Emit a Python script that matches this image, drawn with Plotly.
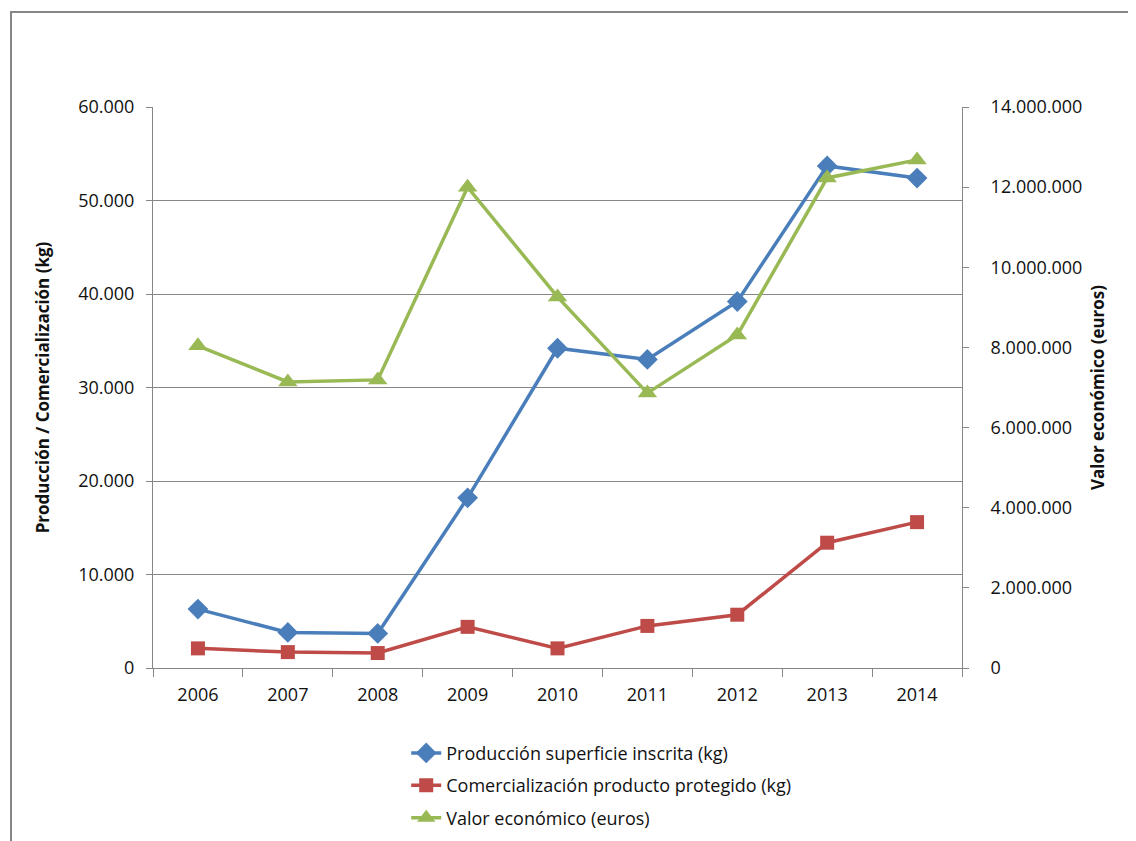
import plotly.graph_objects as go

# ── data ──────────────────────────────────────────────────────────────────────
years = ["2006", "2007", "2008", "2009", "2010", "2011", "2012", "2013", "2014"]
produccion = [6300, 3800, 3700, 18200, 34200, 33000, 39200, 53700, 52400]
comercializacion = [2100, 1700, 1600, 4400, 2100, 4500, 5700, 13400, 15600]
valor = [8040000, 7140000, 7190000, 12000000, 9260000, 6860000, 8310000,
         12230000, 12680000]

# ── palette ───────────────────────────────────────────────────────────────────
BLUE = "#4A7EBB"
RED = "#BE4B48"
GREEN = "#98B954"
GRID = "#868686"
FONT = "Open Sans, sans-serif"

fig = go.Figure()

fig.add_trace(go.Scatter(
    x=years, y=produccion, name="Producción superficie inscrita (kg)",
    legendgroup="a", mode="lines+markers", line=dict(color=BLUE, width=3.5),
    marker=dict(symbol="diamond", size=16, color=BLUE),
))
fig.add_trace(go.Scatter(
    x=years, y=comercializacion, name="Comercialización producto protegido (kg)",
    legendgroup="b", mode="lines+markers", line=dict(color=RED, width=3.5),
    marker=dict(symbol="square", size=14, color=RED),
))
fig.add_trace(go.Scatter(
    x=years, y=valor, name="Valor económico (euros)", yaxis="y2",
    legendgroup="c", mode="lines+markers", line=dict(color=GREEN, width=3.5),
    marker=dict(symbol="triangle-up", size=17, color=GREEN),
))

# outer chart border (like the Excel chart area)
fig.add_shape(type="rect", xref="paper", yref="paper",
              x0=-0.1755, x1=1.25, y0=-0.35, y1=1.1693,
              line=dict(color=GRID, width=2), fillcolor="rgba(0,0,0,0)")

fig.update_layout(
    width=1136, height=841,
    margin=dict(l=145, r=182, t=99, b=181),
    paper_bgcolor="white", plot_bgcolor="white",
    separators=",.",
    font=dict(family=FONT, size=18, color="#111111"),
    showlegend=True,
    legend=dict(x=0.313, y=-0.119, xanchor="left", yanchor="top",
                font=dict(size=18), bgcolor="rgba(0,0,0,0)",
                tracegroupgap=6),
    xaxis=dict(type="category", range=[-0.5, 8.5],
               showline=True, linecolor=GRID, linewidth=1,
               ticks="outside", tickson="boundaries", ticklen=8,
               tickcolor=GRID, showgrid=False, tickfont=dict(size=18),
               ticklabelstandoff=10),
    yaxis=dict(range=[0, 60000], dtick=10000, tickformat=",d",
               showline=True, linecolor=GRID, linewidth=1,
               ticks="outside", ticklen=6, tickcolor=GRID,
               gridcolor=GRID, gridwidth=1, zeroline=False,
               tickfont=dict(size=18), ticklabelstandoff=8,
               title=dict(text="<b>Producción / Comercialización (kg)</b>",
                          font=dict(size=17), standoff=24)),
    yaxis2=dict(range=[0, 14000000], dtick=2000000, tickformat=",d",
                overlaying="y", side="right",
                showline=True, linecolor=GRID, linewidth=1,
                ticks="outside", ticklen=6, tickcolor=GRID,
                showgrid=False, zeroline=False,
                tickfont=dict(size=18), ticklabelstandoff=18,
                title=dict(text="<b>Valor económico (euros)</b>",
                           font=dict(size=17), standoff=10)),
)

fig.write_html("out.html")
